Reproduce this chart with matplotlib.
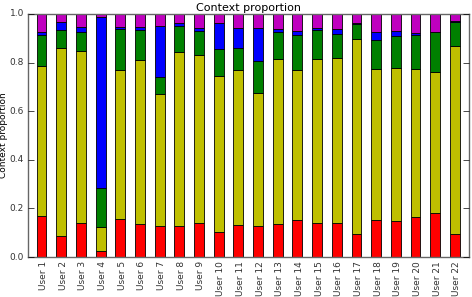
import matplotlib
matplotlib.use('Agg')
import matplotlib.pyplot as plt
import numpy as np

plt.style.use('classic')

users = ['User %d' % i for i in range(1, 23)]

# доли контекстов по пользователям (снизу вверх)
ctx_red = [0.167, 0.088, 0.139, 0.024, 0.157, 0.134, 0.126, 0.128, 0.139, 0.101, 0.130,
           0.128, 0.137, 0.151, 0.141, 0.139, 0.093, 0.153, 0.148, 0.164, 0.181, 0.093]
ctx_olive = [0.619, 0.774, 0.708, 0.099, 0.613, 0.678, 0.544, 0.714, 0.694, 0.642, 0.640,
             0.546, 0.677, 0.619, 0.673, 0.680, 0.804, 0.622, 0.631, 0.611, 0.582, 0.776]
ctx_green = [0.128, 0.073, 0.079, 0.161, 0.167, 0.123, 0.072, 0.110, 0.095, 0.115, 0.089,
             0.132, 0.113, 0.144, 0.121, 0.100, 0.063, 0.120, 0.131, 0.137, 0.161, 0.099]
ctx_blue = [0.013, 0.031, 0.021, 0.705, 0.008, 0.010, 0.210, 0.012, 0.013, 0.106, 0.083,
            0.135, 0.011, 0.018, 0.007, 0.020, 0.004, 0.031, 0.022, 0.009, 0.002, 0.002]
ctx_magenta = [0.073, 0.034, 0.053, 0.011, 0.055, 0.055, 0.048, 0.036, 0.059, 0.036, 0.058,
               0.059, 0.062, 0.068, 0.058, 0.061, 0.036, 0.074, 0.068, 0.079, 0.074, 0.030]

series = [ctx_red, ctx_olive, ctx_green, ctx_blue, ctx_magenta]
colors = ['r', 'y', 'g', 'b', 'm']

fig = plt.figure(figsize=(4.72, 2.97), dpi=100, facecolor='white')
ax = fig.add_axes([28/472, 1 - 257/297, (469-28)/472, (257-14)/297])

ind = np.arange(len(users))
width = 0.5
bottom = np.zeros(len(users))
for vals, c in zip(series, colors):
    ax.bar(ind, vals, width, bottom=bottom, color=c, edgecolor='k', linewidth=0.6, align='center')
    bottom += np.array(vals)

ax.set_xlim(-0.69, 21.72)
ax.set_ylim(0, 1.0)
ax.set_xticks(ind + 0.1)
ax.set_xticklabels(users, rotation=90, fontsize=6.5, color='0.2')
ax.set_yticks([0.0, 0.2, 0.4, 0.6, 0.8, 1.0])
ax.tick_params(axis='y', labelsize=6.5, pad=3, labelcolor='0.2')
ax.tick_params(axis='x', length=0, pad=3)
for s in ax.spines.values():
    s.set_color('0.4')
ax.set_title('Context proportion', fontsize=8, pad=2)
ax.set_ylabel('Context proportion', fontsize=6.5, labelpad=1)

fig.savefig('out.png', dpi=100, facecolor='white')
